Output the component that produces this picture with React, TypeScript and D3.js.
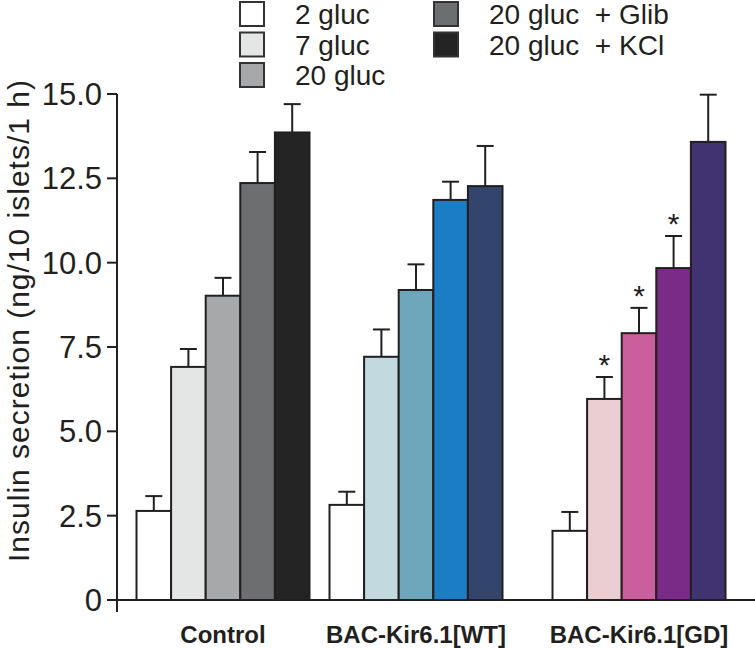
import React from "react";
import * as d3 from "d3";

const groups = ["Control", "BAC-Kir6.1[WT]", "BAC-Kir6.1[GD]"];
const conditions = ["2 gluc", "7 gluc", "20 gluc", "20 gluc  + Glib", "20 gluc  + KCl"];
const controlMeans = [2.64, 6.91, 9.02, 12.36, 13.86];
const controlErr = [0.44, 0.53, 0.53, 0.92, 0.84];
const wtMeans = [2.82, 7.21, 9.19, 11.86, 12.27];
const wtErr = [0.39, 0.81, 0.76, 0.54, 1.19];
const gdMeans = [2.05, 5.96, 7.91, 9.84, 13.58];
const gdErr = [0.56, 0.65, 0.75, 0.95, 1.4];
const gdSignificant = [false, true, true, true, false];
const yTicks = [0, 2.5, 5, 7.5, 10, 12.5, 15];
const controlColors = ["#ffffff", "#e4e6e6", "#a7a8aa", "#6d6e70", "#252425"];
const wtColors = ["#ffffff", "#c2d9e0", "#6ea7bb", "#1b7dc3", "#34456d"];
const gdColors = ["#ffffff", "#ebced2", "#cb5e9c", "#7a2b87", "#413371"];

const FONT = "'Liberation Sans', Arial, Helvetica, sans-serif";
const INK = "#231f20";

export default function App() {
  const W = 755, H = 649;
  const y = d3.scaleLinear().domain([0, 15]).range([600, 94]);
  const axisX = 117;
  const groupCenter = d3.scaleOrdinal<string, number>().domain(groups).range([223, 416, 639]);
  const groupWidth = 173;
  const inner = d3.scaleBand<string>().domain(conditions).range([-groupWidth / 2, groupWidth / 2]).padding(0);

  const data = [
    { g: groups[0], means: controlMeans, errs: controlErr, colors: controlColors, sig: [false, false, false, false, false] },
    { g: groups[1], means: wtMeans, errs: wtErr, colors: wtColors, sig: [false, false, false, false, false] },
    { g: groups[2], means: gdMeans, errs: gdErr, colors: gdColors, sig: gdSignificant },
  ];

  const legendItems = conditions.map((c, i) => ({
    label: c,
    color: controlColors[i],
    col: i < 3 ? 0 : 1,
    row: i < 3 ? i : i - 3,
  }));
  const legendCol = d3.scaleOrdinal<number, number>().domain([0, 1]).range([240, 434]);
  const legendRow = d3.scaleLinear().domain([0, 2]).range([14, 75]);

  const capW = 17;
  const bw = inner.bandwidth();

  return (
    <svg width={W} height={H} style={{ position: "absolute", left: 0, top: 0, background: "#fff" }} fontFamily={FONT}>
      {/* bars */}
      {data.map((d) =>
        d.means.map((m, i) => {
          const x0 = groupCenter(d.g) + (inner(conditions[i]) as number);
          const cx = x0 + bw / 2;
          const top = y(m);
          const et = y(m + d.errs[i]);
          return (
            <g key={d.g + i}>
              <line x1={cx} x2={cx} y1={top} y2={et} stroke={INK} strokeWidth={2} />
              <line x1={cx - capW / 2} x2={cx + capW / 2} y1={et} y2={et} stroke={INK} strokeWidth={2} />
              <rect x={x0} y={top} width={bw} height={y(0) - top} fill={d.colors[i]} stroke={INK} strokeWidth={2} />
              {d.sig[i] && (
                <text x={cx} y={et - 2} textAnchor="middle" fontSize={30} fill={INK}>*</text>
              )}
            </g>
          );
        })
      )}
      {/* axes */}
      <line x1={axisX - 9} x2={W} y1={y(0)} y2={y(0)} stroke={INK} strokeWidth={2} />
      <line x1={axisX} x2={axisX} y1={y(15)} y2={y(0) + 12} stroke={INK} strokeWidth={2} />
      {yTicks.map((t) => (
        <g key={t}>
          <line x1={axisX - 10} x2={axisX} y1={y(t)} y2={y(t)} stroke={INK} strokeWidth={2} />
          <text x={axisX - 15} y={y(t)} dy="0.36em" textAnchor="end" fontSize={31} fill={INK}>
            {t === 0 ? "0" : d3.format(".1f")(t)}
          </text>
        </g>
      ))}
      <text
        transform={`translate(29, 321) rotate(-90)`}
        textAnchor="middle"
        fontSize={30}
        textLength={482}
        lengthAdjust="spacing"
        fill={INK}
      >
        Insulin secretion (ng/10 islets/1 h)
      </text>
      {/* group labels */}
      {groups.map((g) => (
        <text key={g} x={groupCenter(g)} y={643} textAnchor="middle" fontSize={24} fontWeight="bold" fill={INK}>
          {g}
        </text>
      ))}
      {/* legend */}
      {legendItems.map((l) => (
        <g key={l.label}>
          <rect
            x={legendCol(l.col)}
            y={legendRow(l.row) - 12}
            width={24}
            height={24}
            fill={l.color}
            stroke="#333"
            strokeWidth={2}
          />
          <text x={legendCol(l.col) + 55} y={legendRow(l.row)} dy="0.36em" fontSize={28} fill={INK} style={{ whiteSpace: "pre" }}>
            {l.label}
          </text>
        </g>
      ))}
    </svg>
  );
}
